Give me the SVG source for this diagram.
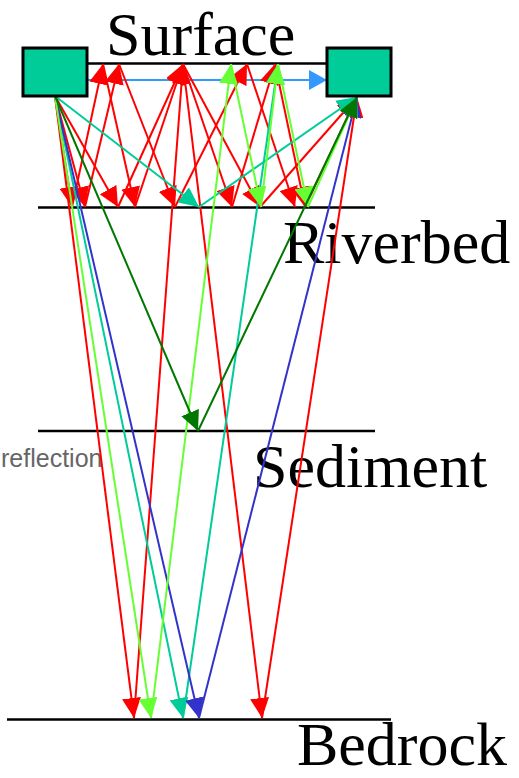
<svg xmlns="http://www.w3.org/2000/svg" width="519" height="778" viewBox="0 0 519 778">
<style>
.layer{stroke:#000;stroke-width:2.5;fill:none}
.box{fill:#00cc99;stroke:#000;stroke-width:3}
.lbl{font-family:"Liberation Serif","Times New Roman",serif;font-size:62px;fill:#000}
.note{font-family:"Liberation Sans",Arial,sans-serif;font-size:25px;fill:#666}
.r{stroke:#ff0000;stroke-width:2;fill:none;marker-end:url(#aR)}
.g{stroke:#66ff33;stroke-width:2;fill:none;marker-end:url(#aG)}
.t{stroke:#00cc99;stroke-width:2;fill:none;marker-end:url(#aT)}
.b{stroke:#3333cc;stroke-width:2;fill:none;marker-end:url(#aB)}
.dg{stroke:#007700;stroke-width:2;fill:none;marker-end:url(#aDG)}
.lb{stroke:#3399ff;stroke-width:2;fill:none;marker-end:url(#aLB)}
</style>
<defs>
<marker id="aR" markerUnits="userSpaceOnUse" markerWidth="20" markerHeight="19" refX="20" refY="9.5" orient="auto"><path d="M0,0 L20,9.5 L0,19 z" fill="#ff0000"/></marker>
<marker id="aG" markerUnits="userSpaceOnUse" markerWidth="20" markerHeight="19" refX="20" refY="9.5" orient="auto"><path d="M0,0 L20,9.5 L0,19 z" fill="#66ff33"/></marker>
<marker id="aT" markerUnits="userSpaceOnUse" markerWidth="20" markerHeight="19" refX="20" refY="9.5" orient="auto"><path d="M0,0 L20,9.5 L0,19 z" fill="#00cc99"/></marker>
<marker id="aB" markerUnits="userSpaceOnUse" markerWidth="20" markerHeight="19" refX="20" refY="9.5" orient="auto"><path d="M0,0 L20,9.5 L0,19 z" fill="#3333cc"/></marker>
<marker id="aDG" markerUnits="userSpaceOnUse" markerWidth="20" markerHeight="19" refX="20" refY="9.5" orient="auto"><path d="M0,0 L20,9.5 L0,19 z" fill="#007700"/></marker>
<marker id="aLB" markerUnits="userSpaceOnUse" markerWidth="18" markerHeight="20" refX="18" refY="10" orient="auto"><path d="M0,0 L18,10 L0,20 z" fill="#3399ff"/></marker>
</defs>
<rect width="519" height="778" fill="#fff"/>
<g id="layers">
<line class="layer" x1="87" y1="63.5" x2="327" y2="63.5"/>
<line class="layer" x1="38" y1="207.5" x2="375" y2="207.5"/>
<line class="layer" x1="38" y1="431" x2="375" y2="431"/>
<line class="layer" x1="7" y1="719.5" x2="391" y2="719.5"/>
</g>
<g id="labels">
<text class="lbl" x="106" y="55">Surface</text>
<text class="lbl" x="283" y="263">Riverbed</text>
<text class="lbl" x="253" y="487">Sediment</text>
<text class="lbl" x="297" y="765">Bedrock</text>
<text class="note" x="1" y="467">reflection</text>
</g>
<g id="connectors">
<line class="lb" x1="87" y1="80" x2="327" y2="80"/>
<line class="r" x1="55" y1="96" x2="134" y2="718"/>
<line class="r" x1="134" y1="718" x2="183" y2="64"/>
<line class="r" x1="183" y1="64" x2="262" y2="718"/>
<line class="r" x1="262" y1="718" x2="357" y2="97"/>
<line class="r" x1="55" y1="96" x2="72" y2="207"/>
<line class="r" x1="72" y1="207" x2="103" y2="64"/>
<line class="r" x1="103" y1="64" x2="135" y2="207"/>
<line class="r" x1="135" y1="207" x2="183" y2="64"/>
<line class="r" x1="183" y1="64" x2="232" y2="207"/>
<line class="r" x1="232" y1="207" x2="275" y2="64"/>
<line class="r" x1="275" y1="64" x2="305" y2="207"/>
<line class="r" x1="305" y1="207" x2="357" y2="97"/>
<line class="r" x1="55" y1="96" x2="85" y2="207"/>
<line class="r" x1="85" y1="207" x2="119" y2="64"/>
<line class="r" x1="119" y1="64" x2="175" y2="207"/>
<line class="r" x1="175" y1="207" x2="247" y2="64"/>
<line class="r" x1="247" y1="64" x2="295" y2="207"/>
<line class="r" x1="55" y1="96" x2="118" y2="207"/>
<line class="r" x1="118" y1="207" x2="183" y2="64"/>
<line class="r" x1="183" y1="64" x2="260" y2="207"/>
<line class="r" x1="260" y1="207" x2="357" y2="97"/>
<line class="t" x1="55" y1="96" x2="199" y2="207"/>
<line class="t" x1="199" y1="207" x2="357" y2="97"/>
<line class="t" x1="55" y1="96" x2="183" y2="718"/>
<line class="t" x1="183" y1="718" x2="278" y2="64"/>
<line class="b" x1="55" y1="96" x2="199" y2="718"/>
<line class="b" x1="199" y1="718" x2="357" y2="97"/>
<line class="g" x1="55" y1="96" x2="151" y2="718"/>
<line class="g" x1="151" y1="718" x2="231" y2="64"/>
<line class="g" x1="231" y1="64" x2="261" y2="207"/>
<line class="g" x1="261" y1="207" x2="278" y2="64"/>
<line class="g" x1="278" y1="64" x2="308" y2="207"/>
<line class="g" x1="308" y1="207" x2="357" y2="97"/>
<line class="dg" x1="55" y1="96" x2="198" y2="431"/>
<line class="dg" x1="198" y1="431" x2="357" y2="97"/>
</g>
<g id="tx"><rect class="box" x="23" y="48" width="64" height="48"/></g>
<g id="rx"><rect class="box" x="327" y="48" width="64" height="48"/></g>
</svg>
